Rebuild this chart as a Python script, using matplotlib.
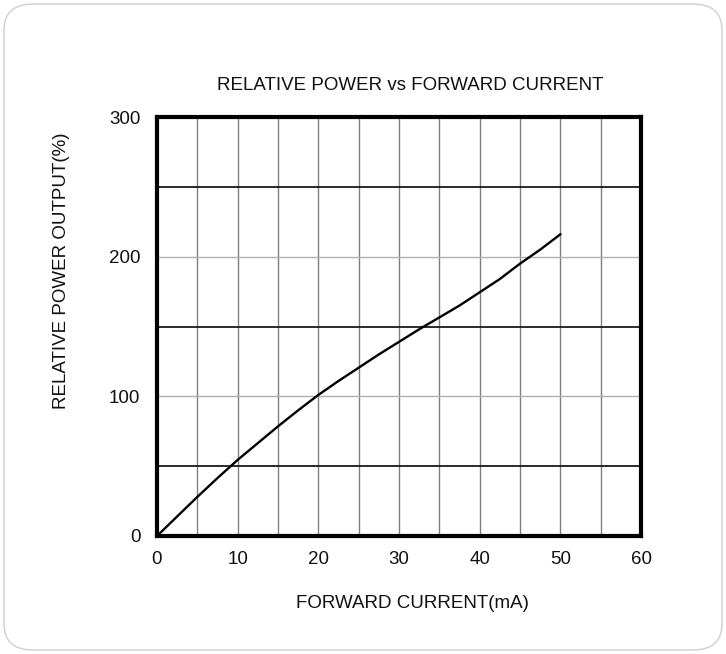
import numpy as np
import matplotlib.pyplot as plt
from matplotlib.patches import FancyBboxPatch

# forward current (mA) vs relative power output (%)
current = [0, 2.5, 5, 7.5, 10, 12.5, 15, 17.5, 20, 22.5, 25,
           27.5, 30, 32.5, 35, 37.5, 40, 42.5, 45, 47.5, 50]
power = [0, 14, 28, 41.5, 54.5, 66.5, 78.5, 90, 101, 111, 120.5,
         130, 139, 148, 156.5, 165, 174.5, 184, 195, 205, 216]

x_ticks = [0, 10, 20, 30, 40, 50, 60]
y_ticks = [0, 100, 200, 300]

plt.rcParams['font.family'] = ['Liberation Sans', 'DejaVu Sans']

W, H = 726, 654
fig = plt.figure(figsize=(W / 100, H / 100), dpi=100)

# rounded card behind everything
card = FancyBboxPatch((4 / W, 4 / H), 718 / W, 646 / H,
                      boxstyle="round,pad=0,rounding_size=0.04",
                      transform=fig.transFigure, facecolor='white',
                      edgecolor='#cfcfcf', linewidth=1.0, zorder=-10)
fig.patches.append(card)

ax = fig.add_axes([157 / W, 1 - 536 / H, 484 / W, 419 / H])
ax.set_xlim(0, 60)
ax.set_ylim(0, 300)

# grid
for gx in np.arange(5, 60, 5):
    ax.axvline(gx, color='#808080', lw=1.0, zorder=1)
for gy in [50, 150, 250]:
    ax.axhline(gy, color='#1a1a1a', lw=1.3, zorder=1)
for gy in [100, 200]:
    ax.axhline(gy, color='#b0b0b0', lw=1.0, zorder=1)

ax.plot(current, power, color='black', lw=1.7, zorder=3,
        solid_joinstyle='round')

for s in ax.spines.values():
    s.set_linewidth(3.0)
    s.set_color('black')

ax.set_xticks(x_ticks)
ax.set_yticks(y_ticks)
ax.tick_params(axis='y', length=0, labelsize=13.5, pad=12, labelcolor='#111111')
ax.tick_params(axis='x', length=0, labelsize=13.5, pad=11, labelcolor='#111111')

fig.text(410 / W, 1 - 86 / H, 'RELATIVE POWER vs FORWARD CURRENT',
         fontsize=13.5, ha='center', va='center', color='#111111')
fig.text(412 / W, 1 - 604 / H, 'FORWARD CURRENT(mA)',
         fontsize=13.5, ha='center', va='center', color='#111111')
fig.text(62 / W, 1 - 271 / H, 'RELATIVE POWER OUTPUT(%)', rotation=90,
         fontsize=13.5, ha='center', va='center', color='#111111')

fig.savefig('out.png', dpi=100)
